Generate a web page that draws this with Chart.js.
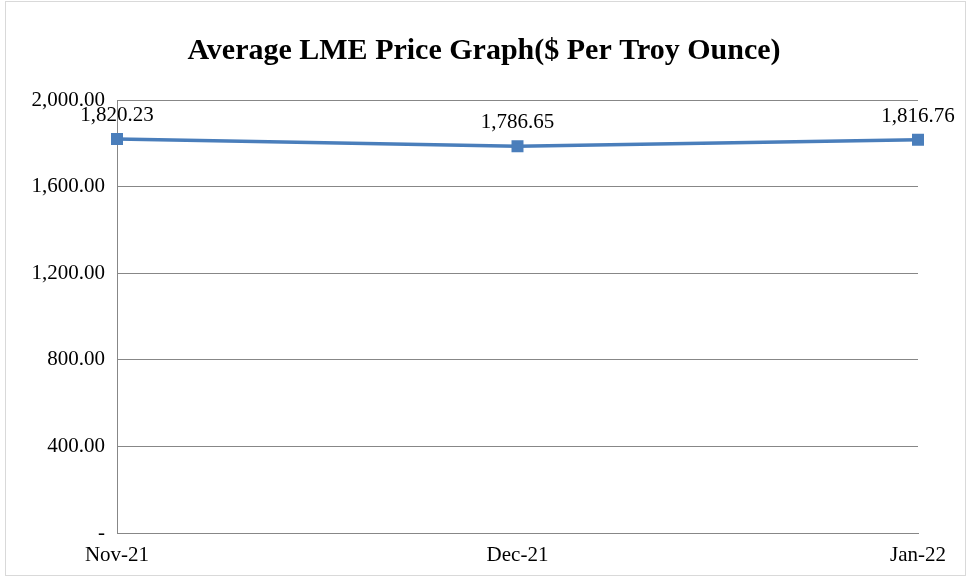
<!DOCTYPE html>
<html>
<head>
<meta charset="utf-8">
<script src="https://cdn.jsdelivr.net/npm/chart.js@4.4.1/dist/chart.umd.min.js"></script>
<style>
  html, body { margin: 0; padding: 0; background: #fff; }
  #box { position: relative; width: 968px; height: 577px; }
  #frame { position: absolute; left: 5px; top: 1px; width: 959px; height: 573px; border: 1px solid #d9d9d9; pointer-events: none; }
</style>
</head>
<body>
<div id="box">
  <canvas id="chart" width="968" height="577"></canvas>
  <div id="frame"></div>
</div>
<script>
const months = ['Nov-21', 'Dec-21', 'Jan-22']
const prices = [1820.23, 1786.65, 1816.76]
const yTicks = [0, 400, 800, 1200, 1600, 2000]

const serif = "'Liberation Serif', 'Times New Roman', serif"
const gridColor = '#878787'
const lineColor = '#4a7ebb'

const fmt = v => v === 0 ? '-' : v.toLocaleString('en-US', { minimumFractionDigits: 2, maximumFractionDigits: 2 })

// value labels above each point
const pointLabels = {
    id: 'pointLabels',
    afterDatasetsDraw(chart){
        const ctx = chart.ctx
        const meta = chart.getDatasetMeta(0)
        ctx.save()
        ctx.font = '21px ' + serif
        ctx.fillStyle = '#000'
        ctx.textAlign = 'center'
        ctx.textBaseline = 'alphabetic'
        meta.data.forEach((pt, i) => {
            ctx.fillText(fmt(prices[i]), pt.x, pt.y - 18)
        })
        ctx.restore()
    }
}

new Chart(document.getElementById('chart'), {
    type: 'line',
    data: {
        labels: months,
        datasets: [{
            data: prices,
            borderColor: lineColor,
            backgroundColor: lineColor,
            borderWidth: 3.5,
            tension: 0,
            pointStyle: 'rect',
            pointRadius: 6,
            pointHoverRadius: 6,
            fill: false
        }]
    },
    options: {
        responsive: false,
        animation: false,
        layout: { padding: { left: 5, right: 5, top: 0, bottom: 0 } },
        plugins: {
            legend: { display: false },
            tooltip: { enabled: false },
            title: {
                display: true,
                text: 'Average LME Price Graph($ Per Troy Ounce)',
                color: '#000',
                font: { family: serif, size: 30, weight: 'bold' },
                padding: { top: 33, bottom: 31 }
            }
        },
        scales: {
            x: {
                offset: false,
                grid: { display: false, drawTicks: false },
                border: { display: true, color: gridColor, width: 1 },
                ticks: { color: '#000', font: { family: serif, size: 21 }, padding: 10, maxRotation: 0, autoSkip: false },
                afterFit: s => { s.height = 44 }
            },
            y: {
                min: 0,
                max: 2000,
                afterBuildTicks: s => { s.ticks = yTicks.map(v => ({ value: v })) },
                grid: { color: gridColor, lineWidth: 1, drawTicks: false },
                border: { display: true, color: gridColor, width: 1 },
                ticks: { color: '#000', font: { family: serif, size: 21 }, padding: 12, callback: v => fmt(v) },
                afterFit: s => { s.width = 112 }
            },
            yPad: {
                type: 'linear',
                position: 'right',
                grid: { display: false, drawTicks: false },
                border: { display: false },
                ticks: { display: false },
                afterFit: s => { s.width = 45 }
            }
        }
    },
    plugins: [pointLabels]
})
</script>
</body>
</html>
